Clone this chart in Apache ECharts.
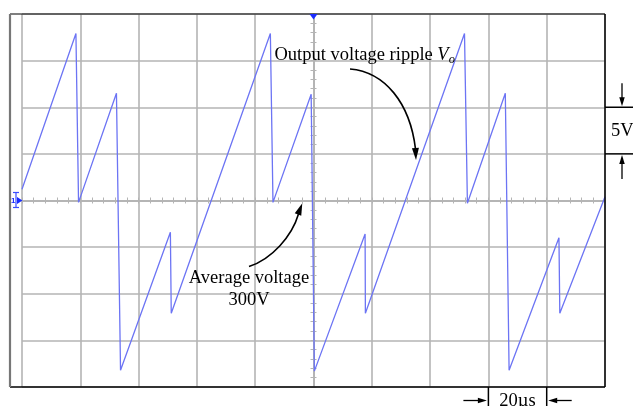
<!DOCTYPE html>
<html><head><meta charset="utf-8">
<script src="https://cdn.jsdelivr.net/npm/echarts@6/dist/echarts.min.js"></script>
<style>html,body{margin:0;padding:0;background:#fff}#c{width:633px;height:406px}</style>
</head><body><div id="c"></div>
<script>
// ---- data ----
const timeUs   = [-100, -81.5, -80.6, -67.6, -66.2, -49.1, -48.8, -14.8, -13.9, -0.8, 0.3, 17.7, 17.8, 51.8, 52.8, 65.8, 67.1, 84.2, 84.5, 100];
const voltageV = [301.2, 317.9, 299.8, 311.5, 281.8, 296.6, 287.9, 317.9, 299.8, 311.4, 281.7, 296.4, 287.9, 317.9, 299.7, 311.5, 281.8, 296.0, 287.9, 300.4];
const timeRange = [-100, 100];
const timeStep = 20;
const voltRange = [280, 320];
const voltStep = 5;
const averageV = 300;
const voltScaleSpan = [305, 310];
const timeScaleSpan = [60, 80];
const rippleLabel = 'Output voltage ripple ';
const rippleSymbol = 'V';
const rippleSub = 'o';
const avgLabel = ['Average voltage', '300V'];
const voltScaleLabel = '5V';
const timeScaleLabel = '20µs';

// ---- chart ----
const FONT = '"Liberation Serif", "Times New Roman", serif';
const GRID = '#b4b4b4';
const TRACE = '#6c74f4';
const chart = echarts.init(document.getElementById('c'), null, {renderer: 'canvas'});

const off = {axisLine: {show: false}, axisTick: {show: false}, axisLabel: {show: false}, splitLine: {show: false}};
function tickX(pos) {
  return {type: 'value', min: timeRange[0], max: timeRange[1], interval: timeStep, position: pos,
    axisLine: {show: true, onZero: true, onZeroAxisIndex: 1, lineStyle: {color: GRID, width: 1.6}},
    axisTick: {show: true, length: 3, lineStyle: {color: GRID, width: 1}},
    minorTick: {show: true, splitNumber: 5, length: 3, lineStyle: {color: GRID, width: 1}},
    axisLabel: {show: false}, splitLine: {show: false}};
}
function tickY(pos) {
  return {type: 'value', min: voltRange[0], max: voltRange[1], interval: voltStep, position: pos,
    axisLine: {show: true, onZero: true, onZeroAxisIndex: 0, lineStyle: {color: GRID, width: 1.6}},
    axisTick: {show: true, length: 3, lineStyle: {color: GRID, width: 1}},
    minorTick: {show: true, splitNumber: 5, length: 3, lineStyle: {color: GRID, width: 1}},
    axisLabel: {show: false}, splitLine: {show: false}};
}

chart.setOption({
  animation: false,
  backgroundColor: '#fff',
  grid: {left: 22, right: 28, top: 14, bottom: 19, containLabel: false},
  xAxis: [
    Object.assign({type: 'value', min: timeRange[0], max: timeRange[1], interval: timeStep}, off,
      {splitLine: {show: true, lineStyle: {color: GRID, width: 1.6}}}),
    tickX('bottom'), tickX('top')
  ],
  yAxis: [
    Object.assign({type: 'value', min: voltRange[0], max: voltRange[1], interval: voltStep}, off,
      {splitLine: {show: true, lineStyle: {color: GRID, width: 1.6}}}),
    Object.assign({type: 'value', min: voltRange[0] - averageV, max: voltRange[1] - averageV, interval: voltStep}, off),
    tickY('left'), tickY('right')
  ],
  series: [{
    type: 'line', xAxisIndex: 0, yAxisIndex: 0,
    data: timeUs.map((t, i) => [t, voltageV[i]]),
    showSymbol: false, symbol: 'none',
    lineStyle: {color: TRACE, width: 1.3}, z: 5
  }]
});

// ---- decorations, placed through the axes ----
const px = (t, v) => chart.convertToPixel({xAxisIndex: 0, yAxisIndex: 0}, [t, v]);
const [xL, yT] = px(timeRange[0], voltRange[1]);
const [xR, yB] = px(timeRange[1], voltRange[0]);
const [xC, yC] = px(0, averageV);
const frameLeft = 10;
const W = 633, H = 406;

function head(tip, from, len, w) {
  const dx = tip[0] - from[0], dy = tip[1] - from[1], d = Math.hypot(dx, dy);
  const ux = dx / d, uy = dy / d, bx = tip[0] - ux * len, by = tip[1] - uy * len;
  return {type: 'polygon', z: 20, shape: {points: [tip, [bx - uy * w / 2, by + ux * w / 2], [bx + uy * w / 2, by - ux * w / 2]]},
    style: {fill: '#000'}};
}
function line(x1, y1, x2, y2, w, c) {
  return {type: 'line', z: 20, shape: {x1, y1, x2, y2}, style: {stroke: c || '#000', lineWidth: w || 1.3}};
}
function curve(p0, c1, c2, p1) {
  return {type: 'bezierCurve', z: 20,
    shape: {x1: p0[0], y1: p0[1], cpx1: c1[0], cpy1: c1[1], cpx2: c2[0], cpy2: c2[1], x2: p1[0], y2: p1[1]},
    style: {fill: null, stroke: '#000', lineWidth: 1.6}};
}
function txt(text, x, y, align, extra) {
  return {type: 'text', z: 20, x, y, style: Object.assign({text, fill: '#000', font: '18.5px ' + FONT, align: align || 'left', verticalAlign: 'middle'}, extra || {})};
}

const yS1 = px(0, voltScaleSpan[1])[1], yS0 = px(0, voltScaleSpan[0])[1];
const xS0 = px(timeScaleSpan[0], averageV)[0], xS1 = px(timeScaleSpan[1], averageV)[0];
const arrX = (xR + W) / 2 + 3;
const arrY = (yB + H) / 2 + 4;

const g = [
  // screen frame
  line(frameLeft, yT, xR, yT, 1.2),
  line(xR, yT, xR, yB, 1.5),
  line(frameLeft, yB, xR, yB, 1.5),
  line(frameLeft, yT, frameLeft, yB, 2.2, '#777'),
  // trigger marker
  {type: 'polygon', z: 21, shape: {points: [[xC - 4, yT], [xC + 4, yT], [xC, yT + 5.5]]}, style: {fill: '#1a2cff'}},
  // ground marker
  line(xL - 6, yC - 8, xL - 6, yC + 7, 1.2, '#3a4cff'),
  line(xL - 9, yC - 8, xL - 3, yC - 8, 1.2, '#3a4cff'),
  line(xL - 9, yC + 7, xL - 3, yC + 7, 1.2, '#3a4cff'),
  {type: 'polygon', z: 21, shape: {points: [[xL - 5, yC - 3.5], [xL + 0.5, yC], [xL - 5, yC + 3.5]]}, style: {fill: '#1a2cff'}},
  {type: 'text', z: 21, x: xL - 11, y: yC, style: {text: '1', fill: '#1a2cff', font: 'bold 8px sans-serif', align: 'left', verticalAlign: 'middle'}},
  // ripple label and arrow
  {type: 'text', z: 20, x: 274.5, y: 55, style: {
    text: '{a|' + rippleLabel + '}{v|' + rippleSymbol + '}{s|' + rippleSub + '}',
    verticalAlign: 'middle', align: 'left',
    rich: {
      a: {fontSize: 18.5, fontFamily: FONT, color: '#000', lineHeight: 22},
      v: {fontSize: 18.5, fontFamily: FONT, fontStyle: 'italic', color: '#000', lineHeight: 22},
      s: {fontSize: 12.5, fontFamily: FONT, fontStyle: 'italic', color: '#000', verticalAlign: 'bottom'}
    }}},
  curve([350, 69], [385, 72], [410, 103], [415.5, 149]),
  head([416, 160], [415.4, 147], 12, 7),
  // average label and arrow
  txt(avgLabel[0], 249, 278, 'center'),
  txt(avgLabel[1], 249, 300, 'center'),
  curve([249, 266.5], [272, 259], [292, 236], [298.5, 214]),
  head([302.3, 203.3], [297.8, 215], 12, 7),
  // 5V scale
  line(xR, yS1, W, yS1, 1.5),
  line(xR, yS0, W, yS0, 1.5),
  line(arrX, yS1 - 24, arrX, yS1 - 8),
  head([arrX, yS1 - 1], [arrX, yS1 - 20], 9, 5.5),
  line(arrX, yS0 + 25, arrX, yS0 + 8),
  head([arrX, yS0 + 1], [arrX, yS0 + 20], 9, 5.5),
  txt(voltScaleLabel, xR + 6, (yS0 + yS1) / 2 + 0.5, 'left'),
  // 20us scale
  line(xS0, yB, xS0, H, 1.5),
  line(xS1, yB, xS1, H, 1.5),
  line(xS0 - 25, arrY, xS0 - 8, arrY),
  head([xS0 - 1.5, arrY], [xS0 - 20, arrY], 9, 5.5),
  line(xS1 + 25, arrY, xS1 + 8, arrY),
  head([xS1 + 1.5, arrY], [xS1 + 20, arrY], 9, 5.5),
  txt(timeScaleLabel, (xS0 + xS1) / 2, arrY + 1, 'center')
];
chart.setOption({graphic: {elements: g}});
</script>
</body></html>
